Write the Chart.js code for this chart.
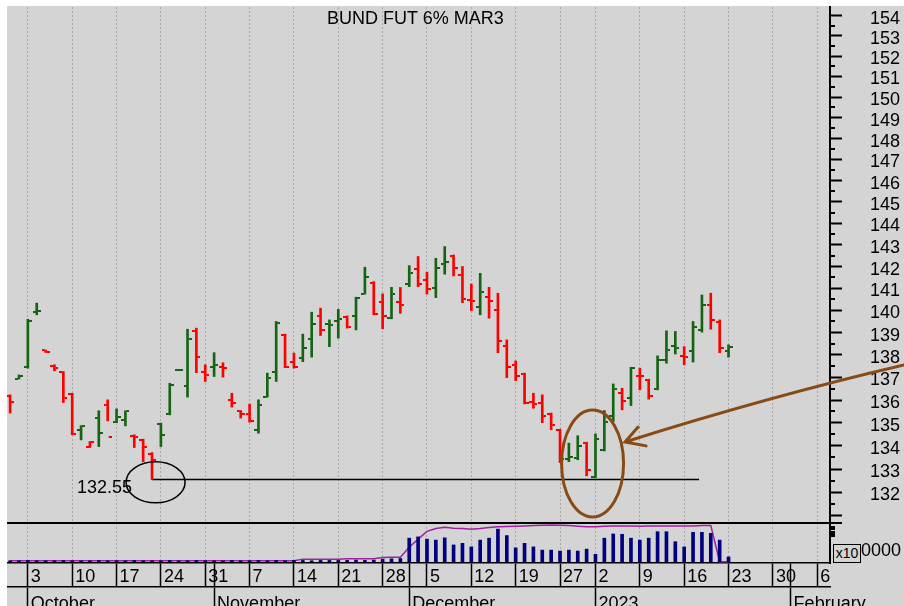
<!DOCTYPE html>
<html>
<head>
<meta charset="utf-8">
<title>BUND FUT 6% MAR3</title>
<script src="https://cdn.jsdelivr.net/npm/chart.js@4/dist/chart.umd.min.js"></script>
<style>
  html, body { margin: 0; padding: 0; background: #fff; }
  body { width: 904px; height: 606px; position: relative; overflow: hidden; font-family: 'Liberation Sans', Arial, sans-serif; }
  #panel { position: absolute; left: 7px; top: 6px; width: 897px; height: 600px; background: #d4d4d4; overflow: hidden; }
  #chart { position: absolute; left: 0; top: 0; }
  .note { position: absolute; font-size: 18px; line-height: 18px; color: #000; white-space: nowrap; }
  #mult { position: absolute; left: 833px; top: 544px; width: 26px; height: 17px; border: 1px solid #000; background: #d4d4d4;
          font-size: 14px; line-height: 17px; text-align: center; color: #000; }
</style>
</head>
<body>
<div id="panel"><canvas id="chart" width="897" height="600"></canvas></div>
<div class="note" style="left:327px;top:9px">BUND FUT 6% MAR3</div>
<div class="note" style="left:77px;top:478px">132.55</div>
<div class="note" style="left:861px;top:541px">0000</div>
<div id="mult">x10</div>
<script>
// ——— Data ———
var days = [
	'2022-09-29', '2022-09-30',
	'2022-10-03', '2022-10-04', '2022-10-05', '2022-10-06', '2022-10-07',
	'2022-10-10', '2022-10-11', '2022-10-12', '2022-10-13', '2022-10-14',
	'2022-10-17', '2022-10-18', '2022-10-19', '2022-10-20', '2022-10-21',
	'2022-10-24', '2022-10-25', '2022-10-26', '2022-10-27', '2022-10-28',
	'2022-10-31', '2022-11-01', '2022-11-02', '2022-11-03', '2022-11-04',
	'2022-11-07', '2022-11-08', '2022-11-09', '2022-11-10', '2022-11-11',
	'2022-11-14', '2022-11-15', '2022-11-16', '2022-11-17', '2022-11-18',
	'2022-11-21', '2022-11-22', '2022-11-23', '2022-11-24', '2022-11-25',
	'2022-11-28', '2022-11-29', '2022-11-30', '2022-12-01', '2022-12-02',
	'2022-12-05', '2022-12-06', '2022-12-07', '2022-12-08', '2022-12-09',
	'2022-12-12', '2022-12-13', '2022-12-14', '2022-12-15', '2022-12-16',
	'2022-12-19', '2022-12-20', '2022-12-21', '2022-12-22', '2022-12-23',
	'2022-12-27', '2022-12-28', '2022-12-29', '2022-12-30',
	'2023-01-02', '2023-01-03', '2023-01-04', '2023-01-05', '2023-01-06',
	'2023-01-09', '2023-01-10', '2023-01-11', '2023-01-12', '2023-01-13',
	'2023-01-16', '2023-01-17', '2023-01-18', '2023-01-19', '2023-01-20',
	'2023-01-23', '2023-01-24', '2023-01-25', '2023-01-26', '2023-01-27',
	'2023-01-30', '2023-01-31', '2023-02-01', '2023-02-02', '2023-02-03',
	'2023-02-06', '2023-02-07'
];

var open = [
	136.19, 136.95, 137.45, 139.92, 138.20, 137.51, 137.23, 136.27, 134.70, 133.97,
	135.23, 135.79, 135.06, 135.13, 134.45, 134.26, 133.66, 134.96, 135.38, 137.31,
	136.63, 139.05, 137.25, 137.45, 137.45, 136.01, 135.52, 135.39, 134.70, 136.15,
	137.23, 138.90, 137.70, 137.85, 138.70, 139.75, 139.39, 139.53, 139.70, 139.75,
	140.75, 141.26, 140.37, 139.65, 140.40, 141.19, 141.88, 141.39, 141.04, 142.11,
	142.49, 141.59, 140.47, 140.17, 140.59, 140.02, 138.42, 137.56, 137.15, 135.90,
	135.86, 135.38, 134.69, 133.45, 133.47, 134.12, 132.67, 133.83, 135.28, 136.30,
	136.08, 137.08, 136.89, 136.48, 137.78, 138.42, 137.96, 138.19, 139.12, 140.25,
	139.49, 138.19
];
var high = [
	136.23, 137.11, 139.60, 140.33, 138.22, 137.56, 137.26, 136.30, 134.88, 134.19,
	135.53, 136.01, 135.61, 135.53, 134.48, 134.29, 133.71, 134.99, 136.74, 137.36,
	139.15, 139.20, 137.56, 138.10, 137.65, 136.30, 135.54, 135.82, 136.01, 137.19,
	139.50, 138.93, 138.08, 138.93, 139.92, 140.10, 139.57, 140.05, 139.75, 140.60,
	141.97, 141.31, 140.75, 141.05, 141.04, 142.04, 142.46, 141.74, 142.38, 142.92,
	142.53, 142.00, 141.20, 141.69, 141.05, 140.78, 138.67, 137.73, 137.19, 136.30,
	136.23, 135.43, 134.72, 134.12, 134.44, 134.16, 134.52, 135.54, 136.71, 136.52,
	137.45, 137.41, 136.92, 137.96, 139.08, 139.05, 138.37, 139.50, 140.70, 140.78,
	139.57, 138.45
];
var low = [
	135.43, 136.93, 137.41, 139.80, 138.11, 137.29, 135.89, 134.48, 134.26, 133.93,
	133.97, 135.09, 135.01, 134.87, 133.93, 133.32, 132.55, 133.97, 135.35, 137.30,
	136.13, 137.21, 136.82, 137.04, 137.01, 135.69, 135.21, 135.03, 134.55, 136.13,
	136.82, 137.43, 137.41, 137.70, 137.90, 138.87, 138.37, 138.75, 139.20, 139.12,
	140.74, 139.80, 139.17, 139.62, 139.87, 141.08, 141.08, 140.74, 140.58, 141.65,
	141.57, 140.35, 139.99, 139.80, 139.65, 138.10, 136.99, 136.86, 135.83, 135.64,
	135.01, 134.70, 133.28, 133.32, 133.40, 132.71, 132.62, 133.78, 135.06, 135.57,
	135.76, 136.45, 136.04, 136.45, 137.63, 138.04, 137.56, 137.68, 139.02, 139.15,
	138.10, 137.90
];
var close = [
	135.93, 137.07, 139.54, 139.97, 138.13, 137.41, 136.08, 134.51, 134.85, 134.16,
	134.55, 134.40, 135.25, 135.53, 134.37, 133.95, 133.39, 134.48, 136.66, 137.35,
	138.70, 137.92, 137.12, 137.55, 137.41, 135.86, 135.39, 135.09, 135.79, 136.96,
	139.42, 137.48, 137.44, 138.30, 139.39, 139.12, 139.32, 139.62, 139.25, 140.55,
	141.54, 139.83, 139.75, 140.75, 140.25, 141.69, 141.19, 140.96, 141.95, 142.19,
	141.95, 140.52, 140.43, 140.83, 140.44, 138.64, 137.45, 137.08, 135.86, 135.83,
	135.32, 134.91, 133.42, 133.52, 134.01, 132.94, 134.29, 135.06, 136.48, 135.98,
	137.41, 137.04, 136.18, 137.78, 138.22, 138.30, 137.90, 139.27, 140.25, 139.57,
	138.30, 138.37
];
// volume and open interest, x10000 contracts
var volume = [
	3, 3, 4, 3, 3, 3, 4, 3, 3, 3, 4, 3, 3, 3, 4, 3, 3, 3, 4, 3,
	3, 4, 3, 3, 3, 4, 3, 3, 4, 3, 4, 3, 4, 4, 3, 4, 4, 4, 4, 5,
	4, 5, 8, 9, 10,
	73, 77, 70, 67, 74, 52, 57, 46, 67, 73, 101, 81, 43, 57, 46, 36, 36, 33, 36, 33,
	39, 23, 73, 86, 85, 73, 67, 73, 93, 93, 62, 46, 91, 91, 88, 67, 15
];
var openInterest = [
	3, 3, 3, 3, 3, 3, 3, 3, 3, 3, 3, 3, 3, 3, 3, 3, 3, 3, 3, 3,
	3, 3, 3, 3, 3, 3, 3, 3, 3, 3, 3, 3, 3, 8, 8, 8, 8, 8, 9, 9,
	9, 9, 13, 14, 14,
	45, 70, 94, 103, 107, 104, 103, 101, 103, 106, 108, 109, 110, 111, 112, 113, 114, 113, 112, 110,
	108, 108, 110, 111, 111, 111, 110, 111, 111, 111, 111, 111, 111, 112, 112, 0, 0
];
var priceTicks = [131, 132, 133, 134, 135, 136, 137, 138, 139, 140, 141, 142,
	143, 144, 145, 146, 147, 148, 149, 150, 151, 152, 153, 154];
var monthLabels = ['October', 'November', 'December', '2023', 'February'];
var supportLevel = 132.55;

(function () {
	'use strict';

	var UP = '#146414';
	var DOWN = '#ff0000';
	var FONT = { family: "'Liberation Sans', Arial, sans-serif", size: 18 };

	// annotations, in (day index, price) space
	var lowCircle = { x: 16.4, y: 132.43, rx: 29.5, ry: 20.5 };
	var reboundCircle = { x: 65.67, y: 133.24, rx: 31, ry: 53.5 };
	var arrow = { from: [100.78, 137.55], via: [85.62, 136.16], to: [69.33, 134.17], wingA: [70.8, 134.82], wingB: [71.7, 134.0] };

	function weekday(d) { return new Date(d + 'T00:00:00Z').getUTCDay(); }

	var weekStart = {};
	var monthStart = {};
	var dateTicks = [];
	var monthTicks = [];
	for (var i = 1; i < days.length; i++) {
		var isWeek = weekday(days[i]) < weekday(days[i - 1]);
		var isMonth = days[i].slice(5, 7) !== days[i - 1].slice(5, 7);
		if (isWeek) weekStart[i] = String(parseInt(days[i].slice(8), 10));
		if (isMonth) {
			monthStart[i] = monthLabels[monthTicks.length];
			monthTicks.push(i);
		}
		if (isWeek || isMonth) dateTicks.push(i);
	}

	function barColor(i) {
		var prev = i > 0 ? close[i - 1] : open[i];
		return close[i] >= prev ? UP : DOWN;
	}

	// small open / close flags, used as point images
	function flag(side, color) {
		var c = document.createElement('canvas');
		c.width = 8;
		c.height = 2;
		var g = c.getContext('2d');
		g.fillStyle = color;
		g.fillRect(side === 'open' ? 0 : 5, 0, 3, 2);
		return c;
	}
	var flags = {
		open: { up: flag('open', UP), down: flag('open', DOWN) },
		close: { up: flag('close', UP), down: flag('close', DOWN) }
	};

	function flagStyle(side) {
		return function (ctx) {
			return barColor(ctx.dataIndex) === UP ? flags[side].up : flags[side].down;
		};
	}

	// vertical axes: keep only the tick-label width, no extra top/bottom padding
	function fitRightAxis(s) {
		s.width = 70;
		s.paddingTop = 0;
		s.paddingBottom = 0;
	}

	// ——— Extra marks: minor ticks, circles, arrow ———
	var panelMarks = {
		id: 'panelMarks',
		afterDraw: function (chart) {
			var ctx = chart.ctx;
			var sx = chart.scales.x, sy = chart.scales.y, sv = chart.scales.yv;
			function px(v) { return sx.getPixelForValue(v); }
			function py(v) { return sy.getPixelForValue(v); }

			ctx.save();
			ctx.strokeStyle = '#000';
			ctx.lineWidth = 2;
			ctx.beginPath();
			priceTicks.forEach(function (v) {
				var y = Math.round(py(v + 0.5));
				if (y < sy.top) return;
				ctx.moveTo(sy.left, y);
				ctx.lineTo(sy.left + 5, y);
			});
			[108, 100, 93, 86, 79].forEach(function (v) {
				var y = Math.round(sv.getPixelForValue(v));
				ctx.moveTo(sv.left, y);
				ctx.lineTo(sv.left + 5, y);
			});
			ctx.stroke();

			ctx.lineWidth = 1.5;
			ctx.beginPath();
			ctx.ellipse(px(lowCircle.x), py(lowCircle.y), lowCircle.rx, lowCircle.ry, 0, 0, Math.PI * 2);
			ctx.stroke();

			ctx.strokeStyle = '#8a4a14';
			ctx.lineWidth = 3;
			ctx.lineCap = 'round';
			ctx.beginPath();
			ctx.ellipse(px(reboundCircle.x), py(reboundCircle.y), reboundCircle.rx, reboundCircle.ry, 0, 0, Math.PI * 2);
			ctx.stroke();

			ctx.beginPath();
			ctx.moveTo(px(arrow.from[0]), py(arrow.from[1]));
			ctx.quadraticCurveTo(px(arrow.via[0]), py(arrow.via[1]), px(arrow.to[0]), py(arrow.to[1]));
			ctx.moveTo(px(arrow.wingA[0]), py(arrow.wingA[1]));
			ctx.lineTo(px(arrow.to[0]), py(arrow.to[1]));
			ctx.lineTo(px(arrow.wingB[0]), py(arrow.wingB[1]));
			ctx.stroke();
			ctx.restore();
		}
	};

	var idx = close.map(function (v, k) { return k; });

	new Chart(document.getElementById('chart').getContext('2d'), {
		type: 'bar',
		data: {
			datasets: [
				{
					label: 'Range',
					xAxisID: 'x', yAxisID: 'y',
					data: idx.map(function (k) { return { x: k, y: [low[k], high[k]] }; }),
					backgroundColor: function (ctx) { return barColor(ctx.dataIndex); },
					barThickness: 2,
					grouped: false
				},
				{
					type: 'scatter', label: 'Open',
					xAxisID: 'x', yAxisID: 'y',
					data: idx.map(function (k) { return { x: k, y: open[k] }; }),
					pointStyle: flagStyle('open'),
					pointRadius: 0.1, pointHoverRadius: 0, pointBorderWidth: 0
				},
				{
					type: 'scatter', label: 'Close',
					xAxisID: 'x', yAxisID: 'y',
					data: idx.map(function (k) { return { x: k, y: close[k] }; }),
					pointStyle: flagStyle('close'),
					pointRadius: 0.1, pointHoverRadius: 0, pointBorderWidth: 0
				},
				{
					type: 'line', label: 'Support',
					xAxisID: 'x', yAxisID: 'y',
					data: [{ x: 16, y: supportLevel }, { x: 77.67, y: supportLevel }],
					borderColor: '#000', borderWidth: 1.5, pointRadius: 0, pointHoverRadius: 0
				},
				{
					label: 'Volume',
					xAxisID: 'x', yAxisID: 'yv',
					data: volume.map(function (v, k) { return { x: k, y: v }; }),
					backgroundColor: '#000080',
					barThickness: 3,
					grouped: false
				},
				{
					type: 'line', label: 'Open interest',
					xAxisID: 'x', yAxisID: 'yv',
					data: openInterest.map(function (v, k) { return { x: k, y: v }; }),
					borderColor: '#a020a0', borderWidth: 1.5, pointRadius: 0, pointHoverRadius: 0, tension: 0
				}
			]
		},
		options: {
			responsive: false,
			devicePixelRatio: 1,
			animation: false,
			events: [],
			layout: { padding: { top: 1, right: 4, left: 0, bottom: 0 } },
			plugins: { legend: { display: false }, tooltip: { enabled: false } },
			scales: {
				x: {
					type: 'linear', position: 'bottom', weight: 0,
					min: -0.34, max: 92.44, bounds: 'data', offset: false,
					afterBuildTicks: function (s) { s.ticks = dateTicks.map(function (v) { return { value: v }; }); },
					afterFit: function (s) { s.height = 24; },
					ticks: {
						autoSkip: false, maxRotation: 0, align: 'start', labelOffset: 3, padding: -21,
						color: '#000', font: FONT,
						callback: function (v) { return weekStart[v] || ''; }
					},
					grid: {
						offset: false, lineWidth: 1, tickLength: 24, tickWidth: 1.5, tickColor: '#000', tickBorderDash: [],
						color: function (c) { return c.tick && weekStart[c.tick.value] ? '#a8a8a8' : 'rgba(0,0,0,0)'; }
					},
					border: { display: true, color: '#000', width: 1.5, dash: [2, 2] }
				},
				xm: {
					type: 'linear', position: 'bottom', weight: 1,
					min: -0.34, max: 92.44, bounds: 'data', offset: false,
					afterBuildTicks: function (s) { s.ticks = monthTicks.map(function (v) { return { value: v }; }); },
					afterFit: function (s) { s.height = 19; },
					ticks: {
						autoSkip: false, maxRotation: 0, align: 'start', labelOffset: 3, padding: -13,
						color: '#000', font: FONT,
						callback: function (v) { return monthStart[v] || ''; }
					},
					grid: { offset: false, drawOnChartArea: false, tickLength: 19, tickWidth: 1.5, tickColor: '#000' },
					border: { display: true, color: '#000', width: 1.5 }
				},
				y: {
					type: 'logarithmic', position: 'right', stack: 'panels', stackWeight: 516,
					min: 130.70, max: 154.43, bounds: 'data', beginAtZero: false,
					afterBuildTicks: function (s) { s.ticks = priceTicks.map(function (v) { return { value: v }; }); },
					afterFit: fitRightAxis,
					ticks: {
						autoSkip: false, padding: 28, labelOffset: 3, color: '#000', font: FONT,
						callback: function (v) { return v >= 132 ? String(v) : ''; }
					},
					grid: { drawOnChartArea: false, tickLength: 12, tickWidth: 2, tickColor: '#000' },
					border: { display: true, color: '#000', width: 2 }
				},
				yv: {
					type: 'linear', position: 'right', stack: 'panels', stackWeight: 40,
					min: -4, max: 120, bounds: 'data', beginAtZero: false,
					afterBuildTicks: function (s) { s.ticks = [{ value: 120 }]; },
					afterFit: fitRightAxis,
					ticks: { display: false },
					grid: { drawOnChartArea: true, color: '#000', lineWidth: 2, tickLength: 12, tickWidth: 2, tickColor: '#000' },
					border: { display: true, color: '#000', width: 2 }
				}
			}
		},
		plugins: [panelMarks]
	});
})();
</script>
</body>
</html>
